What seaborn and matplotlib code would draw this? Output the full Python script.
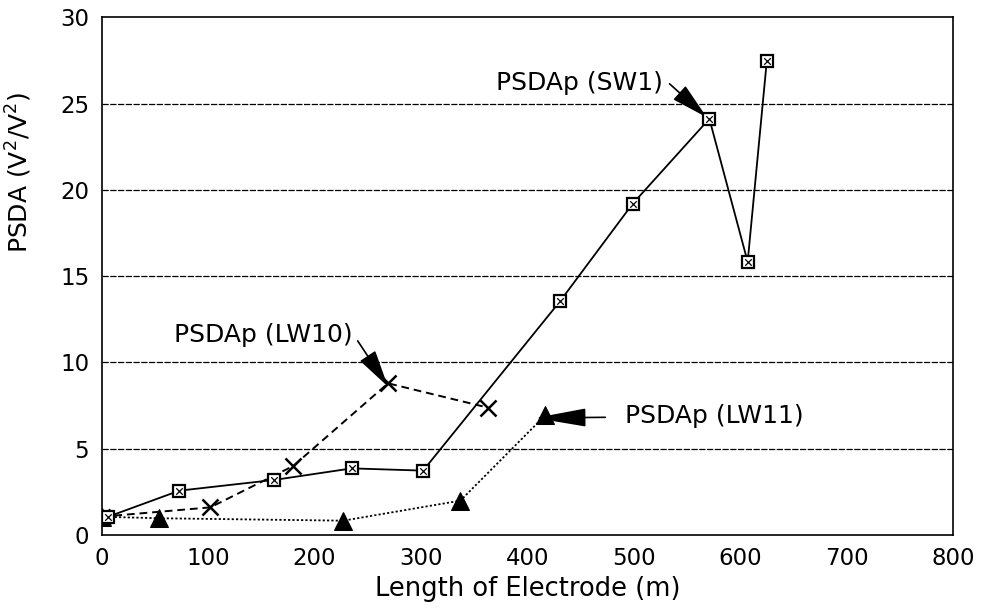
import matplotlib
matplotlib.use("Agg")
import matplotlib.pyplot as plt
import seaborn as sns
import pandas as pd

# ---- data ----
sw1_x = [6, 73, 162, 235, 302, 431, 499, 571, 607, 625]
sw1_y = [1.06, 2.57, 3.19, 3.86, 3.73, 13.57, 19.2, 24.12, 15.83, 27.48]

lw10_x = [0, 102, 180, 269, 363]
lw10_y = [1.06, 1.6, 4.0, 8.79, 7.38]

lw11_x = [0, 54, 227, 337, 417]
lw11_y = [1.06, 0.97, 0.83, 1.99, 6.95]

x_ticks = [0, 100, 200, 300, 400, 500, 600, 700, 800]
y_ticks = [0, 5, 10, 15, 20, 25, 30]

x_label = "Length of Electrode (m)"
y_label = r"PSDA (V$^2$/V$^2$)"

sns.set_style("white")
plt.rcParams["font.family"] = ["DejaVu Sans"]
plt.rcParams["mathtext.fontset"] = "dejavusans"
plt.rcParams["text.color"] = "black"
plt.rcParams["axes.labelcolor"] = "black"
plt.rcParams["xtick.color"] = "black"
plt.rcParams["ytick.color"] = "black"

fig = plt.figure(figsize=(9.81, 6.11), dpi=100)
ax = fig.add_axes([0.1037, 0.1244, 0.8678, 0.8473])

df_sw1 = pd.DataFrame({"x": sw1_x, "y": sw1_y})
df_lw10 = pd.DataFrame({"x": lw10_x, "y": lw10_y})
df_lw11 = pd.DataFrame({"x": lw11_x, "y": lw11_y})

# LW11: dotted line with filled triangles
sns.lineplot(data=df_lw11, x="x", y="y", ax=ax, sort=False, color="black",
             linestyle=(0, (1.2, 1.2)), linewidth=1.3, marker="^",
             markersize=13, markerfacecolor="black", markeredgecolor="black",
             zorder=3)
# LW10: dashed line with x markers
sns.lineplot(data=df_lw10, x="x", y="y", ax=ax, sort=False, color="black",
             linestyle=(0, (4, 2.5)), linewidth=1.4, marker="x",
             markersize=11, markeredgewidth=1.8, markeredgecolor="black",
             markerfacecolor="black", zorder=4)
# SW1: solid line with boxed-x markers
sns.lineplot(data=df_sw1, x="x", y="y", ax=ax, sort=False, color="black",
             linewidth=1.3, marker="s", markersize=9,
             markerfacecolor="white", markeredgecolor="black",
             markeredgewidth=1.6, zorder=5)
sns.scatterplot(data=df_sw1, x="x", y="y", ax=ax, marker="x", s=22,
                color="black", linewidth=0.9, zorder=6)

ax.set_xlim(0, 800)
ax.set_ylim(0, 30)
ax.set_xticks(x_ticks)
ax.set_yticks(y_ticks)
ax.tick_params(axis="both", direction="out", length=6, width=1.2,
               labelsize=16.5, colors="black", pad=3)

for v in y_ticks[1:-1]:
    ax.axhline(v, color="black", linewidth=0.9, linestyle=(0, (5, 1.2)),
               zorder=1)

for sp in ax.spines.values():
    sp.set_visible(True)
    sp.set_color("black")
    sp.set_linewidth(1.2)

ax.set_xlabel(x_label, fontsize=18.5, labelpad=4)
ax.set_ylabel(y_label, fontsize=18)
ax.yaxis.set_label_coords(-0.0795, 0.70)

# annotations
ax.annotate("PSDAp (SW1)", xy=(568.6, 24.2), xytext=(527.6, 26.2),
            ha="right", va="center", fontsize=18,
            arrowprops=dict(arrowstyle="-|>,head_length=1.3,head_width=0.32",
                            color="black", lw=1.2, relpos=(1.0, 0.7),
                            shrinkA=3, shrinkB=0))
ax.annotate("PSDAp (LW10)", xy=(269, 8.6), xytext=(236, 11.6),
            ha="right", va="center", fontsize=18,
            arrowprops=dict(arrowstyle="-|>,head_length=1.3,head_width=0.32",
                            color="black", lw=1.2, relpos=(1.0, 0.55),
                            shrinkA=2, shrinkB=0))
ax.annotate("PSDAp (LW11)", xy=(407, 6.78), xytext=(492, 6.9),
            ha="left", va="center", fontsize=18,
            arrowprops=dict(arrowstyle="-|>,head_length=1.8,head_width=0.32",
                            color="black", lw=1.2, relpos=(0.0, 0.45),
                            shrinkA=12, shrinkB=0))

fig.savefig("out.png", dpi=100)
